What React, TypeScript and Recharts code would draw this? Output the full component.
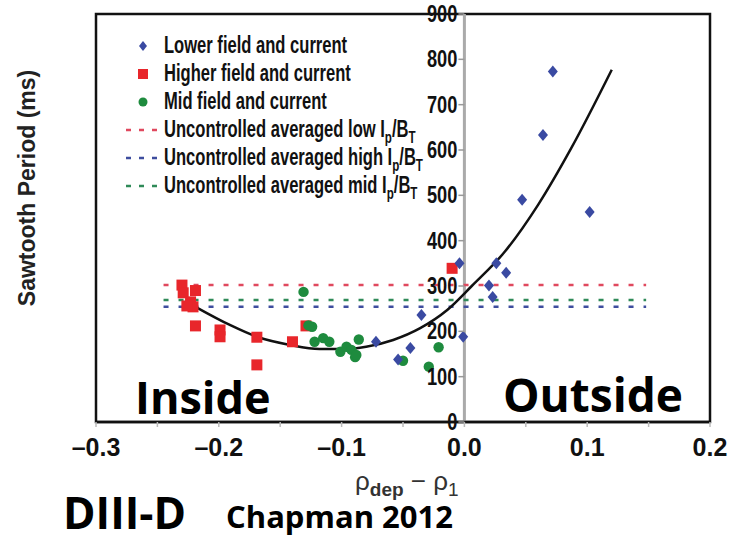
import React from "react";
import {
  ComposedChart, Scatter, Line, XAxis, YAxis, ReferenceLine, ReferenceArea,
} from "recharts";

// ---- data ----
const X_TICKS = [-0.3, -0.25, -0.2, -0.15, -0.1, -0.05, 0, 0.05, 0.1, 0.15, 0.2];
const Y_TICKS = [0, 100, 200, 300, 400, 500, 600, 700, 800, 900];

// [rho_dep - rho_1, sawtooth period ms]
const LOWER_FIELD: [number, number][] = [
  [0.072, 773], [0.064, 633], [0.047, 490], [0.102, 463],
  [-0.004, 350], [0.026, 350], [0.034, 329], [0.020, 301], [0.023, 276],
  [-0.035, 236], [-0.044, 163], [-0.054, 138], [-0.001, 188], [-0.072, 177],
];
const HIGHER_FIELD: [number, number][] = [
  [-0.230, 302], [-0.229, 285], [-0.219, 290], [-0.223, 265], [-0.221, 254],
  [-0.226, 256], [-0.219, 212], [-0.199, 203], [-0.199, 188], [-0.169, 187],
  [-0.169, 126], [-0.140, 177], [-0.129, 212], [-0.010, 339],
];
const MID_FIELD: [number, number][] = [
  [-0.131, 287], [-0.124, 210], [-0.127, 213], [-0.122, 177], [-0.115, 185],
  [-0.110, 177], [-0.101, 155], [-0.096, 166], [-0.092, 159], [-0.089, 143],
  [-0.088, 148], [-0.086, 182], [-0.050, 135], [-0.029, 122], [-0.021, 165],
];
const FIT_CURVE: [number, number][] = [
  [-0.219, 254], [-0.191, 214], [-0.169, 188], [-0.142, 170], [-0.118, 161],
  [-0.096, 161], [-0.080, 166], [-0.058, 181], [-0.036, 207], [-0.014, 247],
  [0.006, 300], [0.033, 376], [0.060, 479], [0.087, 604], [0.120, 777],
];
// uncontrolled averages: low, high, mid Ip/BT
const AVG_LOW = 302;
const AVG_HIGH = 254;
const AVG_MID = 269;
const AVG_SPAN = [-0.245, 0.148];

const X_MIN = -0.3, X_MAX = 0.2, Y_MIN = 0, Y_MAX = 900;

// ---- layout ----
const W = 731, H = 536;
const M = { top: 14, right: 21, left: 95, bottom: 74 };
const Y_AXIS_W = 1;
const PLOT_LEFT = M.left + Y_AXIS_W;
const PLOT_W = W - PLOT_LEFT - M.right;
const ZERO_X = PLOT_LEFT + ((0 - X_MIN) / (X_MAX - X_MIN)) * PLOT_W;

const SANS = "'Liberation Sans',Arial,sans-serif";
const GEO = "'Open Sans','DejaVu Sans',sans-serif";

const BLUE = "#3a4aa2";
const RED = "#e8262b";
const GREEN = "#1e8b3e";
const RED_DASH = "#e0485e";
const BLUE_DASH = "#3e4d9e";
const GREEN_DASH = "#2f8a58";

const toPts = (arr: [number, number][]) => arr.map(([x, y]) => ({ x, y }));

const Diamond = (p: any) => (
  <polygon points={`${p.cx},${p.cy - 6} ${p.cx + 5},${p.cy} ${p.cx},${p.cy + 6} ${p.cx - 5},${p.cy}`} fill={BLUE} />
);
const Square = (p: any) => <rect x={p.cx - 5.5} y={p.cy - 5.5} width={11} height={11} fill={RED} />;
const Dot = (p: any) => <circle cx={p.cx} cy={p.cy} r={5.2} fill={GREEN} />;

const renderYTick = ({ y, payload }: any) => (
  <g key={`yt-${payload.value}`}>
    <line x1={ZERO_X - 6} x2={ZERO_X} y1={y} y2={y} stroke="#999" strokeWidth={1.5} />
    <text transform={`translate(${ZERO_X - 7},${y}) scale(0.76,1)`} textAnchor="end" dominantBaseline="central"
      fontFamily={SANS} fontWeight={700} fontSize={24} fill="#111">{payload.value}</text>
  </g>
);

const fmtX = (v: number) => {
  if (Math.round(Math.abs(v) * 100) % 10 !== 0) return "";
  if (Math.abs(v) < 1e-9) return "0.0";
  return v < 0 ? `\u2013${Math.abs(v).toFixed(1)}` : v.toFixed(1);
};

const IpBt = () => (
  <span>I<sub style={{ fontSize: "0.7em" }}>p</sub>/B<sub style={{ fontSize: "0.7em" }}>T</sub></span>
);

const legendRows = [
  { kind: "diamond", label: "Lower field and current", sub: false },
  { kind: "square", label: "Higher field and current", sub: false },
  { kind: "circle", label: "Mid field and current", sub: false },
  { kind: "dash", color: RED_DASH, label: "Uncontrolled averaged low", sub: true },
  { kind: "dash", color: BLUE_DASH, label: "Uncontrolled averaged high", sub: true },
  { kind: "dash", color: GREEN_DASH, label: "Uncontrolled averaged mid", sub: true },
];

function Marker({ kind, color }: { kind: string; color?: string }) {
  return (
    <svg width={40} height={14} style={{ position: "absolute", left: 0, top: 8 }}>
      {kind === "diamond" && <polygon points="18,2 22,7 18,12 14,7" fill={BLUE} />}
      {kind === "square" && <rect x={13} y={2} width={10} height={10} fill={RED} />}
      {kind === "circle" && <circle cx={18} cy={7} r={4.5} fill={GREEN} />}
      {kind === "dash" && <line x1={1} x2={40} y1={7} y2={7} stroke={color} strokeWidth={2.5} strokeDasharray="5 8" />}
    </svg>
  );
}

export default function App() {
  return (
    <div style={{ position: "absolute", left: 0, top: 0, width: W, height: H, background: "#fff" }}>
      <ComposedChart width={W} height={H} margin={M}>
        <XAxis dataKey="x" type="number" domain={[X_MIN, X_MAX]} ticks={X_TICKS} allowDataOverflow
          tickFormatter={fmtX} interval={0} tickSize={5} tickMargin={11}
          tickLine={{ stroke: "#bbb", strokeWidth: 1.5 }} axisLine={{ stroke: "#111", strokeWidth: 2.5 }}
          tick={{ fontFamily: SANS, fontWeight: 700, fontSize: 25, fill: "#111" }} height={40} />
        <YAxis type="number" domain={[Y_MIN, Y_MAX]} ticks={Y_TICKS} width={Y_AXIS_W} axisLine={false}
          tickLine={false} tick={renderYTick} interval={0} />
        <ReferenceArea x1={X_MIN} x2={X_MAX} y1={Y_MIN} y2={Y_MAX} fill="none" fillOpacity={0}
          stroke="#111" strokeWidth={2.5} />
        <ReferenceLine x={0} stroke="#aaa" strokeWidth={3} />
        <ReferenceLine segment={[{ x: AVG_SPAN[0], y: AVG_LOW }, { x: AVG_SPAN[1], y: AVG_LOW }]}
          stroke={RED_DASH} strokeWidth={2.5} strokeDasharray="5 10" />
        <ReferenceLine segment={[{ x: AVG_SPAN[0], y: AVG_MID }, { x: AVG_SPAN[1], y: AVG_MID }]}
          stroke={GREEN_DASH} strokeWidth={2.5} strokeDasharray="5 10" />
        <ReferenceLine segment={[{ x: AVG_SPAN[0], y: AVG_HIGH }, { x: AVG_SPAN[1], y: AVG_HIGH }]}
          stroke={BLUE_DASH} strokeWidth={2.5} strokeDasharray="5 10" />
        <Line data={toPts(FIT_CURVE)} dataKey="y" type="monotone" stroke="#111" strokeWidth={2.5}
          dot={false} activeDot={false} isAnimationActive={false} />
        <Scatter data={toPts(HIGHER_FIELD)} dataKey="y" shape={Square} isAnimationActive={false} />
        <Scatter data={toPts(MID_FIELD)} dataKey="y" shape={Dot} isAnimationActive={false} />
        <Scatter data={toPts(LOWER_FIELD)} dataKey="y" shape={Diamond} isAnimationActive={false} />
      </ComposedChart>

      {/* legend */}
      <div style={{ position: "absolute", left: 125, top: 31, fontFamily: SANS, fontWeight: 700, fontSize: 24, color: "#111" }}>
        {legendRows.map((r, i) => (
          <div key={i} style={{ position: "relative", height: 28, paddingLeft: 39, whiteSpace: "nowrap", lineHeight: "28px" }}>
            <Marker kind={r.kind} color={(r as any).color} />
            <span style={{ display: "inline-block", transform: "scaleX(0.69)", transformOrigin: "left center" }}>
              {r.label}{r.sub && <> <IpBt /></>}
            </span>
          </div>
        ))}
      </div>

      {/* y label */}
      <div style={{ position: "absolute", left: 27, top: 188, transform: "translate(-50%,-50%) rotate(-90deg)",
        whiteSpace: "nowrap", fontFamily: SANS, fontWeight: 700, fontSize: 23, color: "#222" }}>
        Sawtooth Period (ms)
      </div>

      {/* x label */}
      <div style={{ position: "absolute", left: 355, top: 466, whiteSpace: "nowrap",
        fontFamily: SANS, fontSize: 26, color: "#333", lineHeight: 1.2 }}>
        ρ<sub style={{ fontSize: 19, fontWeight: 700 }}>dep</sub> − ρ<sub style={{ fontSize: 19 }}>1</sub>
      </div>

      <div style={{ position: "absolute", left: 135, top: 374, fontFamily: GEO, fontWeight: 700, fontSize: 45, color: "#000", lineHeight: 1 }}>Inside</div>
      <div style={{ position: "absolute", left: 503, top: 371, fontFamily: GEO, fontWeight: 700, fontSize: 46, color: "#000", lineHeight: 1 }}>Outside</div>
      <div style={{ position: "absolute", left: 63, top: 490, fontFamily: GEO, fontWeight: 700, fontSize: 44, color: "#000", lineHeight: 1 }}>DIII-D</div>
      <div style={{ position: "absolute", left: 226, top: 501, fontFamily: GEO, fontWeight: 700, fontSize: 31, color: "#000", lineHeight: 1 }}>Chapman 2012</div>
    </div>
  );
}
